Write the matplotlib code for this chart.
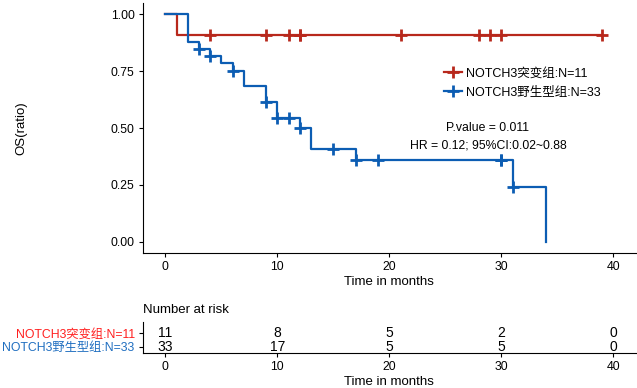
import numpy as np
import matplotlib
matplotlib.use('Agg')
import matplotlib.pyplot as plt
from matplotlib.lines import Line2D

plt.rcParams['font.family'] = ['Liberation Sans', 'Noto Sans CJK SC']

# survival data (months)
red_name = 'NOTCH3突变组:N=11'
blue_name = 'NOTCH3野生型组:N=33'
red_event_times = [1]
red_censor_times = [4, 9, 11, 12, 12, 21, 28, 29, 30, 39]
blue_event_times = [2, 2, 2, 2, 3, 4, 5, 6, 7, 7, 9, 9, 10, 10, 12, 13, 13, 17, 31, 34]
blue_censor_times = [3, 4, 6, 9, 10, 11, 12, 15, 17, 19, 30, 30, 31]
risk_times = [0, 10, 20, 30, 40]
p_text = 'P.value = 0.011'
hr_text = 'HR = 0.12; 95%CI:0.02~0.88'

red = '#B8281C'
blue = '#0C5DB3'


def km(events, censors):
    ev = np.array(events)
    ce = np.array(censors)
    alltimes = np.concatenate([ev, ce])
    ts = np.unique(alltimes)
    s = 1.0
    xs, ys = [0], [1.0]
    surv = {}
    for t in ts:
        n = np.sum(alltimes >= t)
        d = np.sum(ev == t)
        s = s * (1 - d / n)
        xs.append(t)
        ys.append(s)
        surv[t] = s
    cx = ce
    cy = np.array([surv[t] for t in ce])
    return np.array(xs), np.array(ys), cx, cy, alltimes


fig = plt.figure(figsize=(6.37, 3.88), dpi=100)
ax = fig.add_axes([0.2245, 0.348, 0.7735, 0.644])
tab = fig.add_axes([0.2245, 0.09, 0.7735, 0.08])

handles = []
risk = []
for ev, ce, col, name in [(red_event_times, red_censor_times, red, red_name),
                          (blue_event_times, blue_censor_times, blue, blue_name)]:
    xs, ys, cx, cy, allt = km(ev, ce)
    ax.step(xs, ys, where='post', color=col, lw=1.6)
    ax.plot(cx, cy, '+', color=col, ms=8, mew=2)
    handles.append(Line2D([], [], color=col, lw=1.6, marker='+', ms=8, mew=2))
    risk.append([int(np.sum(allt >= t)) for t in risk_times])

ax.set_xlim(-2, 42)
ax.set_ylim(-0.05, 1.05)
ax.set_xticks([0, 10, 20, 30, 40])
ax.set_yticks([0, 0.25, 0.5, 0.75, 1.0])
ax.set_yticklabels(['0.00', '0.25', '0.50', '0.75', '1.00'])
ax.set_xlabel('Time in months', fontsize=9.5, labelpad=2)
ax.set_ylabel('OS(ratio)', fontsize=9.5, labelpad=60)
for sp in ['top', 'right']:
    ax.spines[sp].set_visible(False)
ax.tick_params(labelsize=8.8, length=3, pad=3)

ax.legend(handles, [red_name, blue_name], loc='center left', bbox_to_anchor=(0.6, 0.68),
          frameon=False, fontsize=9, handlelength=1.5, handletextpad=0.3, labelspacing=0.55,
          borderaxespad=0)
ax.text(0.7, 0.5, p_text, transform=ax.transAxes, ha='center', va='center', fontsize=8.8)
ax.text(0.7, 0.43, hr_text, transform=ax.transAxes, ha='center', va='center', fontsize=8.8)

# risk table
for row, vals in zip([1, 0], risk):
    for t, v in zip(risk_times, vals):
        tab.text(t, row, str(v), ha='center', va='center', fontsize=10)
tab.set_xlim(-2, 42)
tab.set_ylim(-0.45, 1.8)
tab.set_xticks([0, 10, 20, 30, 40])
tab.set_yticks([1, 0])
tab.set_yticklabels([red_name, blue_name], fontsize=9.1)
tab.get_yticklabels()[0].set_color('#FF1F1F')
tab.get_yticklabels()[1].set_color('#1F6EC0')
for sp in ['top', 'right']:
    tab.spines[sp].set_visible(False)
tab.tick_params(labelsize=8.8, length=3, pad=3)
tab.set_xlabel('Time in months', fontsize=9.5, labelpad=2)
fig.text(0.2245, 1 - 310 / 388, 'Number at risk', ha='left', va='center', fontsize=9.5)

fig.savefig('out.png', dpi=100)
